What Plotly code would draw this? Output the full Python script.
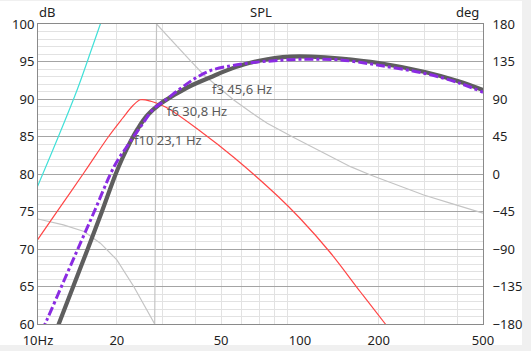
import numpy as np
import plotly.graph_objects as go

# ---- data ----
spl_f = [11.5, 12, 13.7, 15.6, 17.5, 19.8, 21, 22.6, 24, 26.1, 29.4, 33, 38, 45.6, 52, 61, 70, 80, 92, 110, 143, 200, 300, 400, 500]
spl_db = [58.4, 60, 65.2, 70.3, 74.9, 80, 82.1, 84.4, 86.0, 87.8, 89.4, 90.5, 91.7, 92.9, 93.75, 94.6, 95.1, 95.45, 95.65, 95.65, 95.4, 94.8, 93.6, 92.4, 91.2]

alt_f = [10.3, 10.8, 12.5, 14.4, 16.5, 18.9, 20.2, 21.6, 23.1, 25, 27.5, 30.8, 35, 40, 45.6, 54, 61, 70, 80, 92, 110, 143, 200, 300, 400, 500]
alt_db = [59, 60.5, 65.6, 70.5, 75.2, 80, 81.9, 83.4, 84.9, 86.6, 88.6, 89.9, 91.4, 92.8, 93.8, 94.4, 94.7, 94.95, 95.1, 95.25, 95.3, 95.2, 94.5, 93.4, 92.2, 90.9]

red_f = [9.5, 11.8, 15, 18.6, 21, 23, 24.6, 27, 30.8, 41.7, 56, 82, 100, 130, 170, 212, 240]
red_db = [70.2, 74.95, 80.2, 85.0, 87.4, 89.1, 89.9, 89.7, 88.9, 85.7, 82.2, 77.1, 74.1, 69.6, 64.3, 60.0, 57.5]

cyan_f = [9.5, 10, 12, 14.1, 16, 17.3, 18.5]
cyan_db = [76.6, 78.5, 85.1, 91.2, 96.6, 100, 103]

ph_f = [10, 12.5, 15, 17.3, 20, 23.2, 25.5, 27.9, 28.35, 30, 34, 38, 43, 49, 55.9, 65, 75, 93.5, 120, 156, 186, 240, 297, 380, 500]
ph_deg = [-54, -61, -69, -83, -103, -135, -158, -180, 180, 171.4, 152.8, 136.7, 118.8, 104, 88.8, 74, 60.8, 44.8, 27.2, 8.8, -1.2, -14.3, -25.2, -35.5, -46.9]

marks = [("f3 45,6 Hz", 45.6, 91.35), ("f6 30,8 Hz", 30.8, 88.4), ("f10 23,1 Hz", 23.1, 84.55)]

x_tickvals = [10, 20, 50, 100, 200, 500]
x_ticktext = ["10Hz", "20", "50", "100", "200", "500"]
x_minor = [20, 30, 40, 50, 60, 70, 80, 90, 200, 300, 400]
db_ticks = [60, 65, 70, 75, 80, 85, 90, 95, 100]
deg_ticks = [-180, -135, -90, -45, 0, 45, 90, 135, 180]

FONT = "Noto Sans"

fig = go.Figure()
# phase on base axis (drawn beneath the SPL curves)
fig.add_trace(go.Scatter(x=ph_f, y=ph_deg, mode="lines", yaxis="y",
                         line=dict(color="#c4c4c4", width=1.2), hoverinfo="skip"))
fig.add_trace(go.Scatter(x=cyan_f, y=cyan_db, mode="lines", yaxis="y2",
                         line=dict(color="#40e0d8", width=1.2, shape="spline"), hoverinfo="skip"))
fig.add_trace(go.Scatter(x=red_f, y=red_db, mode="lines", yaxis="y2",
                         line=dict(color="#ff4646", width=1.2, shape="spline"), hoverinfo="skip"))
fig.add_trace(go.Scatter(x=spl_f, y=spl_db, mode="lines", yaxis="y2",
                         line=dict(color="#5e5e5e", width=4.2, shape="spline"), hoverinfo="skip"))
fig.add_trace(go.Scatter(x=alt_f, y=alt_db, mode="lines", yaxis="y2",
                         line=dict(color="#8a2be2", width=3, dash="dashdot", shape="spline"), hoverinfo="skip"))

annotations = []
for txt, f, db in marks:
    annotations.append(dict(x=np.log10(f), y=db, xref="x", yref="y2", text=txt, showarrow=False,
                            xanchor="left", yanchor="middle", xshift=-1,
                            font=dict(family=FONT, size=13, color="#5a5a5a")))
annotations += [
    dict(x=0.5, y=1.04, xref="paper", yref="paper", text="SPL", showarrow=False,
         xanchor="center", yanchor="middle", font=dict(family=FONT, size=13, color="#222")),
    dict(x=0.021, y=1.04, xref="paper", yref="paper", text="dB", showarrow=False,
         xanchor="center", yanchor="middle", font=dict(family=FONT, size=13, color="#222")),
    dict(x=0.966, y=1.04, xref="paper", yref="paper", text="deg", showarrow=False,
         xanchor="center", yanchor="middle", font=dict(family=FONT, size=13, color="#222")),
]

shapes = [
    dict(type="line", xref="x", yref="paper", x0=2, x1=2, y0=0, y1=1,
         line=dict(color="#a0a0a0", width=1.3), layer="below"),
    dict(type="rect", xref="paper", yref="paper", x0=1.0876, x1=1.2, y0=-0.2, y1=1.2,
         fillcolor="#f0f0f0", line=dict(width=0), layer="below"),
    dict(type="rect", xref="paper", yref="paper", x0=-0.2, x1=1.2, y0=-0.2, y1=-0.07,
         fillcolor="#f0f0f0", line=dict(width=0), layer="below"),
    dict(type="rect", xref="paper", yref="paper", x0=-0.2, x1=1.2, y0=1.0767, y1=1.2,
         fillcolor="#f0f0f0", line=dict(width=0), layer="below"),
]

fig.update_layout(
    width=531, height=351,
    margin=dict(l=38, r=48, t=24, b=27, autoexpand=False),
    paper_bgcolor="white", plot_bgcolor="white",
    showlegend=False, hovermode=False,
    font=dict(family=FONT, size=13, color="#1e1e1e"),
    xaxis=dict(type="log", range=[1, np.log10(500)], tickvals=x_tickvals, ticktext=x_ticktext,
               ticks="", showgrid=False, zeroline=False, ticklabelstandoff=4, automargin=False,
               showline=True, mirror=True, linecolor="#8a8a8a", linewidth=1,
               minor=dict(tickvals=x_minor, showgrid=True, gridcolor="#e2e2e2", gridwidth=1, ticks=""),
               tickfont=dict(family=FONT, size=13, color="#1e1e1e")),
    yaxis=dict(range=[-180, 180], tickvals=deg_ticks, side="right", showgrid=False, zeroline=False,
               ticks="", ticklabelstandoff=6, showline=True, mirror=True, linecolor="#8a8a8a",
               automargin=False,
               tickfont=dict(family=FONT, size=13, color="#1e1e1e")),
    yaxis2=dict(range=[60, 100], tickvals=db_ticks, side="left", overlaying="y",
                showgrid=True, gridcolor="#a4a4a4", gridwidth=1.2, zeroline=False, ticks="",
                minor=dict(dtick=1, tick0=60, showgrid=True, gridcolor="#e2e2e2", gridwidth=1, ticks=""),
                showline=True, linecolor="#8a8a8a", automargin=False,
                tickfont=dict(family=FONT, size=13, color="#1e1e1e")),
    annotations=annotations,
    shapes=shapes,
)

fig.write_html("out.html", config=dict(displayModeBar=False))
